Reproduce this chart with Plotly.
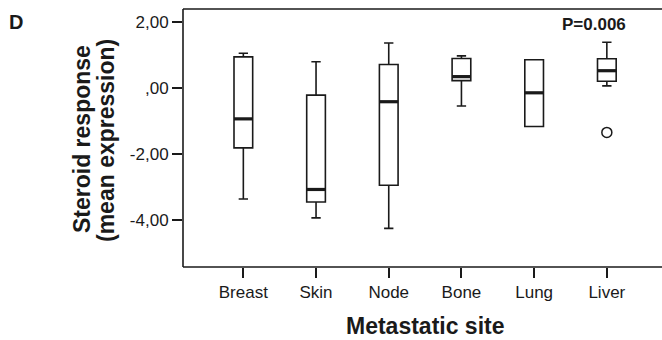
import plotly.graph_objects as go

# Metastatic sites and box summary statistics (steroid response, mean expression)
sites = ["Breast", "Skin", "Node", "Bone", "Lung", "Liver"]
upper = [1.06, 0.80, 1.37, 0.98, 0.86, 1.39]
q3 = [0.95, -0.21, 0.72, 0.90, 0.86, 0.89]
median = [-0.93, -3.07, -0.41, 0.35, -0.14, 0.53]
q1 = [-1.81, -3.45, -2.94, 0.23, -1.16, 0.21]
lower = [-3.36, -3.93, -4.25, -0.54, -1.16, 0.07]

# Outlying observations
outlier_site = ["Liver"]
outlier_value = [-1.34]

y_ticks = [2, 0, -2, -4]
y_tick_text = ["2,00", ",00", "-2,00", "-4,00"]

FONT = "Liberation Sans, Arial, sans-serif"
INK = "#1a1a1a"
BOX_W = 0.257
LW = 1.6

W, H = 662, 340
L, R, T, B = 183, 0, 9, 73

fig = go.Figure()

fig.add_trace(go.Box(
    x=sites, q1=q1, median=median, q3=q3,
    lowerfence=lower, upperfence=upper,
    width=BOX_W, whiskerwidth=0.5,
    fillcolor="white", line=dict(color=INK, width=LW),
    boxpoints=False, showlegend=False, hoverinfo="skip",
))

fig.add_trace(go.Scatter(
    x=outlier_site, y=outlier_value, mode="markers",
    marker=dict(symbol="circle-open", size=10, color=INK, line=dict(width=1.5)),
    showlegend=False, hoverinfo="skip",
))

# Heavier median bars on top of each box
for i, m in enumerate(median):
    fig.add_shape(type="line", xref="x", yref="y",
                  x0=i - BOX_W / 2, x1=i + BOX_W / 2, y0=m, y1=m,
                  line=dict(color=INK, width=3.2))

# Frame: left, top and bottom edges (open on the right)
frame = dict(color=INK, width=LW)
fig.add_shape(type="line", xref="paper", yref="paper",
              x0=0, x1=0, y0=0, y1=1, line=frame)
fig.add_shape(type="line", xref="paper", yref="paper",
              x0=0, x1=1, y0=1, y1=1, line=frame)
fig.add_shape(type="line", xref="paper", yref="paper",
              x0=0, x1=1, y0=0, y1=0, line=frame)

px_per_cat = 72.7
x_left = -0.83
x_right = x_left + (W - L - R) / px_per_cat

fig.update_layout(
    width=W, height=H,
    margin=dict(l=L, r=R, t=T, b=B, pad=0),
    paper_bgcolor="white", plot_bgcolor="white",
    font=dict(family=FONT, color=INK),
    xaxis=dict(
        type="category", range=[x_left, x_right],
        showline=False,
        ticks="outside", ticklen=10, tickwidth=LW, tickcolor=INK,
        tickfont=dict(size=17, family=FONT, color=INK),
        showgrid=False, zeroline=False, fixedrange=True,
    ),
    yaxis=dict(
        range=[-5.42, 2.40],
        tickvals=y_ticks, ticktext=y_tick_text,
        showline=False,
        ticks="outside", ticklen=10, tickwidth=LW, tickcolor=INK,
        tickfont=dict(size=17, family=FONT, color=INK),
        showgrid=False, zeroline=False, fixedrange=True,
    ),
)

plot_w = W - L - R
plot_h = H - T - B


def px_x(px):
    return (px - L) / plot_w


def px_y(py):
    return (H - B - py) / plot_h


# Y-axis title, two rotated lines
fig.add_annotation(text="<b>Steroid response</b>", xref="paper", yref="paper",
                   x=px_x(82), y=px_y(139), textangle=-90, showarrow=False,
                   xanchor="center", yanchor="middle",
                   font=dict(size=23, family=FONT, color=INK))
fig.add_annotation(text="<b>(mean expression)</b>", xref="paper", yref="paper",
                   x=px_x(106), y=px_y(141), textangle=-90, showarrow=False,
                   xanchor="center", yanchor="middle",
                   font=dict(size=23, family=FONT, color=INK))

# X-axis title
fig.add_annotation(text="<b>Metastatic site</b>", xref="paper", yref="paper",
                   x=px_x(425), y=px_y(326), showarrow=False,
                   xanchor="center", yanchor="middle",
                   font=dict(size=23, family=FONT, color=INK))

# Panel letter
fig.add_annotation(text="<b>D</b>", xref="paper", yref="paper",
                   x=px_x(16), y=px_y(22), showarrow=False,
                   xanchor="center", yanchor="middle",
                   font=dict(size=20, family=FONT, color=INK))

# Significance label
fig.add_annotation(text="<b>P=0.006</b>", xref="paper", yref="paper",
                   x=px_x(594), y=px_y(24.5), showarrow=False,
                   xanchor="center", yanchor="middle",
                   font=dict(size=17, family=FONT, color=INK))

fig.write_html("out.html", config={"displayModeBar": False})
